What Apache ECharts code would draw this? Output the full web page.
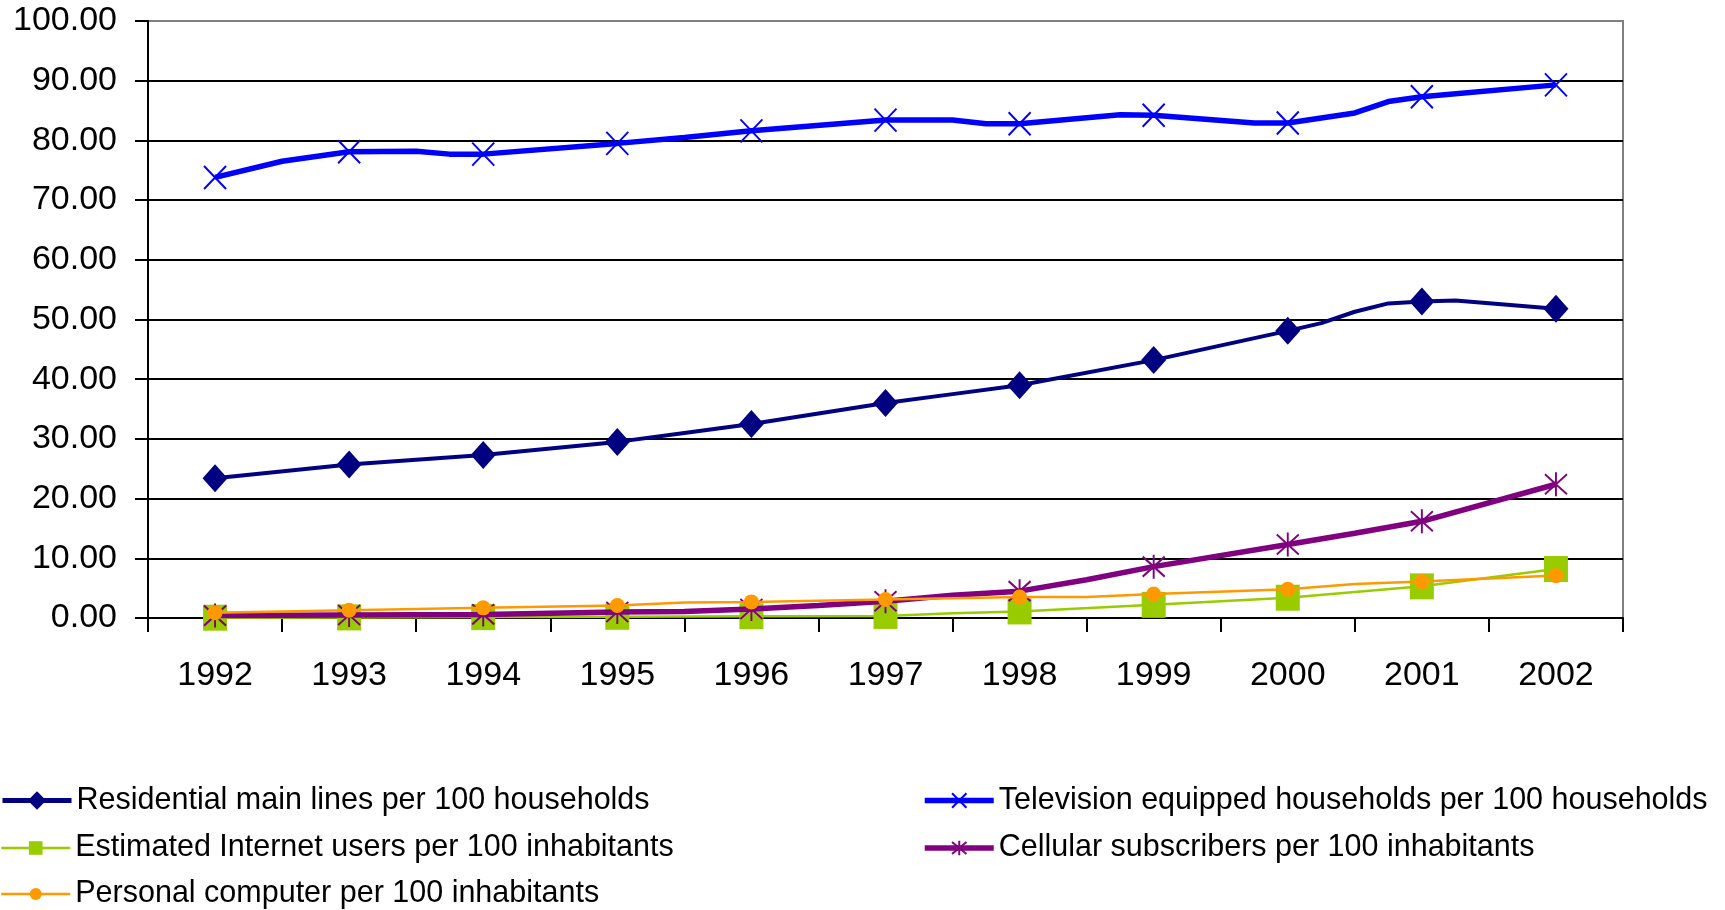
<!DOCTYPE html>
<html>
<head>
<meta charset="utf-8">
<script src="https://cdn.jsdelivr.net/npm/echarts@6/dist/echarts.min.js"></script>
<style>
html,body{margin:0;padding:0;background:#fff;}
#chart{width:1725px;height:910px;}
</style>
</head>
<body>
<div id="chart"></div>
<script>
// ---- data ----
const years = [1992, 1993, 1994, 1995, 1996, 1997, 1998, 1999, 2000, 2001, 2002];
const yTicks = [0, 10, 20, 30, 40, 50, 60, 70, 80, 90, 100];
const xTickBounds = [1991.5, 1992.5, 1993.5, 1994.5, 1995.5, 1996.5, 1997.5, 1998.5, 1999.5, 2000.5, 2001.5, 2002.5];

const residential = [23.4, 25.7, 27.3, 29.5, 32.5, 36.0, 39.0, 43.2, 48.1, 53.0, 51.8];
const residentialBends = [[1995.5, 31.0], [1997.5, 37.5], [2000.25, 49.4], [2000.5, 51.3], [2000.75, 52.7], [2001.25, 53.2]];

const television = [73.8, 78.1, 77.7, 79.5, 81.6, 83.4, 82.8, 84.2, 82.9, 87.3, 89.3];
const televisionBends = [[1992.5, 76.5], [1993.5, 78.2], [1993.75, 77.7], [1995.5, 80.5], [1997.5, 83.4], [1997.75, 82.8], [1998.75, 84.3], [1999.75, 82.9], [2000.5, 84.6], [2000.75, 86.5]];

const internet = [0.05, 0.1, 0.15, 0.2, 0.3, 0.35, 1.1, 2.2, 3.4, 5.3, 8.2];
const internetBends = [[1997.5, 0.8]];

const cellular = [0.4, 0.5, 0.6, 1.0, 1.5, 2.8, 4.5, 8.6, 12.3, 16.2, 22.4];
const cellularBends = [[1995.5, 1.1], [1996.5, 2.1], [1997.5, 3.8], [1998.5, 6.4], [2000.5, 14.2]];

const computers = [0.9, 1.3, 1.7, 2.1, 2.7, 3.1, 3.5, 4.0, 4.8, 6.1, 7.1];
const computersBends = [[1995.5, 2.6], [1998.5, 3.5], [2000.5, 5.7]];

const names = [
  'Residential main lines per 100 households',
  'Television equipped households per 100 households',
  'Estimated Internet users per 100 inhabitants',
  'Cellular subscribers per 100 inhabitants',
  'Personal computer per 100 inhabitants'
];

function build(vals, bends) {
  const pts = years.map((y, i) => ({ value: [y, vals[i]] }));
  bends.forEach(b => pts.push({ value: b, symbol: 'none' }));
  pts.sort((a, b) => a.value[0] - b.value[0]);
  return pts;
}

const FONT = '"Liberation Sans", Arial, sans-serif';
const X_PATH = 'path://M0,0L10,10M10,0L0,10';
const STAR_PATH = 'path://M0,0L10,10M10,0L0,10M5,-1L5,11';

const chart = echarts.init(document.getElementById('chart'), null, { renderer: 'canvas' });

const splitColors = yTicks.map((v, i) => i === yTicks.length - 1 ? '#808080' : '#000000');

function legendItem(name, left, rowCenter, iconH, lineW) {
  return {
    data: [name], orient: 'horizontal', left: left, top: rowCenter - 15.5,
    padding: 0, itemWidth: 69, itemHeight: iconH,
    lineStyle: { width: lineW },
    textStyle: { fontSize: 30.5, color: '#000', fontFamily: FONT, lineHeight: 31 },
    selectedMode: false
  };
}

chart.setOption({
  animation: false,
  backgroundColor: '#ffffff',
  textStyle: { fontFamily: FONT },
  grid: {
    left: 148, right: 102, top: 21, bottom: 292,
    show: true, borderColor: '#808080', borderWidth: 2, backgroundColor: '#ffffff'
  },
  legend: [
    legendItem(names[0], 0, 800.5, 23, 5),
    legendItem(names[1], 922, 800.5, 18, 5.5),
    legendItem(names[2], 0, 848, 17, 2.5),
    legendItem(names[3], 922, 848, 18, 5.5),
    legendItem(names[4], 0, 894, 15, 2.5)
  ],
  xAxis: {
    type: 'value',
    min: xTickBounds[0], max: xTickBounds[xTickBounds.length - 1],
    axisLine: { show: true, onZero: false, lineStyle: { color: '#000', width: 2 } },
    axisTick: { show: true, length: 14, customValues: xTickBounds, lineStyle: { color: '#000', width: 2 } },
    axisLabel: {
      customValues: years, formatter: v => String(v),
      fontSize: 34, color: '#000', fontFamily: FONT, margin: 41
    },
    splitLine: { show: false }
  },
  yAxis: {
    type: 'value', min: 0, max: 100, interval: 10,
    axisLine: { show: true, lineStyle: { color: '#000', width: 2 } },
    axisTick: { show: true, length: 13, lineStyle: { color: '#000', width: 2 } },
    axisLabel: {
      formatter: v => v.toFixed(2),
      fontSize: 34, color: '#000', fontFamily: FONT, margin: 31
    },
    splitLine: { show: true, lineStyle: { color: splitColors, width: 2 } }
  },
  series: [
    {
      name: names[0], type: 'line', data: build(residential, residentialBends),
      showAllSymbol: true, symbol: 'diamond', symbolSize: [25, 28],
      lineStyle: { color: '#000080', width: 4 },
      itemStyle: { color: '#000080' }, z: 2
    },
    {
      name: names[1], type: 'line', data: build(television, televisionBends),
      showAllSymbol: true, symbol: X_PATH, symbolSize: [22, 23],
      lineStyle: { color: '#0000FF', width: 5.5 },
      itemStyle: { color: 'rgba(0,0,0,0)', borderColor: '#0000FF', borderWidth: 2 }, z: 2
    },
    {
      name: names[2], type: 'line', data: build(internet, internetBends),
      showAllSymbol: true, symbol: 'rect', symbolSize: [24, 26],
      lineStyle: { color: '#99CC00', width: 2.5 },
      itemStyle: { color: '#99CC00' }, z: 3
    },
    {
      name: names[3], type: 'line', data: build(cellular, cellularBends),
      showAllSymbol: true, symbol: STAR_PATH, symbolSize: [22, 24],
      lineStyle: { color: '#800080', width: 5.5 },
      itemStyle: { color: 'rgba(0,0,0,0)', borderColor: '#800080', borderWidth: 2 }, z: 4
    },
    {
      name: names[4], type: 'line', data: build(computers, computersBends),
      showAllSymbol: true, symbol: 'circle', symbolSize: 15,
      lineStyle: { color: '#FF9900', width: 2.5 },
      itemStyle: { color: '#FF9900' }, z: 5
    }
  ]
});
</script>
</body>
</html>
